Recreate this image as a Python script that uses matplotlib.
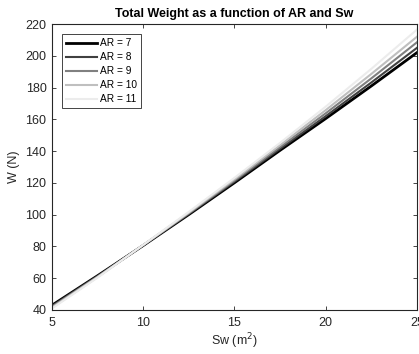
import matplotlib
matplotlib.use("Agg")
import matplotlib.pyplot as plt

plt.rcParams['font.family'] = ['Liberation Sans', 'DejaVu Sans']

# wing area Sw (m^2)
sw = [5, 7.5, 10, 12.5, 15, 17.5, 20, 22.5, 25]

# total weight W (N) for each aspect ratio
w_ar7 = [43.0, 61.6, 80.6, 100.1, 120.1, 140.5, 160.5, 181.0, 202.0]
w_ar8 = [42.5, 61.3, 80.7, 100.5, 120.8, 141.5, 162.0, 183.2, 205.0]
w_ar9 = [42.0, 61.0, 80.8, 100.9, 121.5, 142.6, 163.8, 185.8, 208.5]
w_ar10 = [41.5, 60.7, 80.9, 101.3, 122.3, 143.8, 165.8, 188.6, 212.0]
w_ar11 = [41.0, 60.4, 81.0, 101.8, 123.2, 145.2, 168.0, 191.8, 216.5]

ar_labels = ['AR = 7', 'AR = 8', 'AR = 9', 'AR = 10', 'AR = 11']
series = [w_ar7, w_ar8, w_ar9, w_ar10, w_ar11]
greys = ['#000000', '#404040', '#808080', '#bfbfbf', '#ececec']
widths = [2.0, 1.5, 1.5, 1.5, 1.5]

xticks = [5, 10, 15, 20, 25]
yticks = [40, 60, 80, 100, 120, 140, 160, 180, 200, 220]

fig = plt.figure(figsize=(4.19, 3.54), dpi=100)
ax = fig.add_axes([0.1241, 0.1243, 0.8711, 0.8079])

for w, lab, c, lw in zip(series, ar_labels, greys, widths):
    ax.plot(sw, w, color=c, lw=lw, label=lab)

ax.set_xlim(5, 25)
ax.set_ylim(40, 220)
ax.set_xticks(xticks)
ax.set_yticks(yticks)

axis_col = '#262626'
for s in ax.spines.values():
    s.set_color(axis_col)
    s.set_linewidth(0.8)
ax.tick_params(direction='in', top=True, right=True, length=3, width=0.6,
               colors=axis_col, labelsize=9, labelcolor=axis_col)
ax.tick_params(axis='x', pad=5)
ax.tick_params(axis='y', pad=4)

ax.set_title('Total Weight as a function of AR and Sw', fontsize=9,
             fontweight='bold', pad=5)
ax.set_xlabel('Sw (m$^2$)', fontsize=9, color=axis_col, labelpad=2)
ax.set_ylabel('W (N)', fontsize=9, color=axis_col, labelpad=4)

leg = ax.legend(loc='upper left', bbox_to_anchor=(0.027, 0.965),
                borderaxespad=0, fancybox=False, framealpha=1,
                edgecolor=axis_col, fontsize=7.3, handlelength=3.1,
                handletextpad=0.3, labelspacing=0.4, borderpad=0.4)
leg.get_frame().set_linewidth(0.6)

fig.savefig('out.png', dpi=100)
plt.close(fig)
